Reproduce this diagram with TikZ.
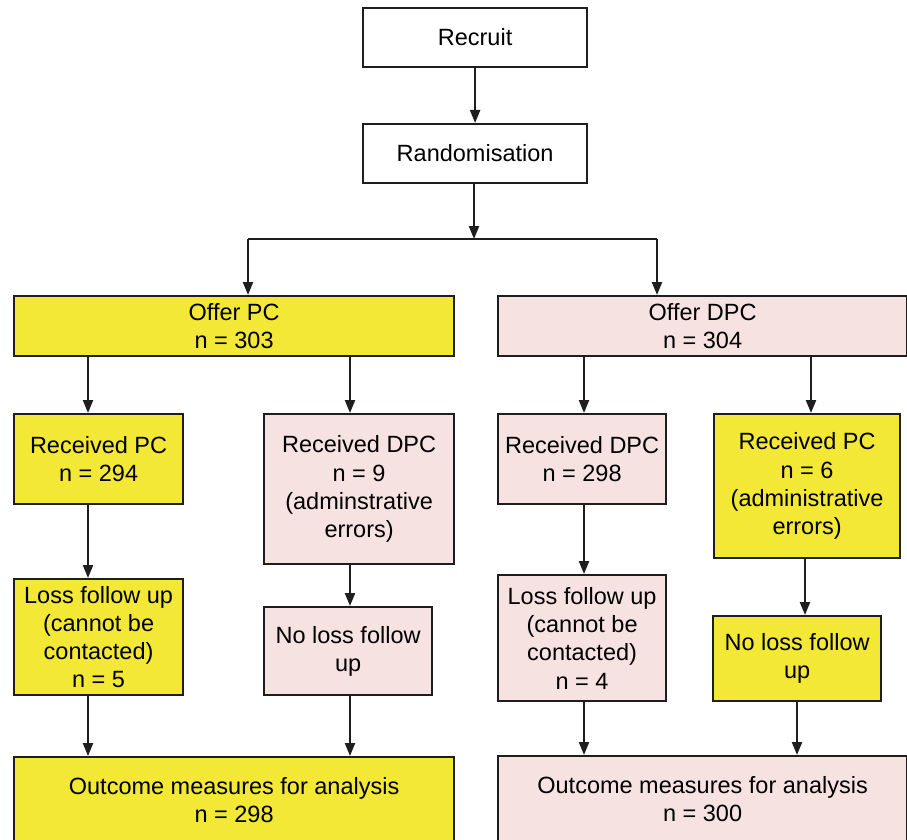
\documentclass[tikz,border=0pt]{standalone}
\usepackage{fontspec}
\setmainfont{Liberation Sans}
\usetikzlibrary{arrows.meta}
\definecolor{boxyellow}{HTML}{F2E835}
\definecolor{boxpink}{HTML}{F6E2E1}
\definecolor{edgecol}{HTML}{1E1E1E}
\begin{document}
\begin{tikzpicture}[x=1pt,y=-1pt,
  box/.style={draw=edgecol, line width=2.2pt, inner sep=0pt, align=center,
    font=\fontsize{23.5}{28.3}\selectfont, anchor=north west},
  ybox/.style={box, fill=boxyellow},
  pbox/.style={box, fill=boxpink},
  wbox/.style={box, fill=white},
  link/.style={draw=edgecol, line width=2.2pt},
  arr/.style={link, -{Triangle[length=13pt,width=10pt]}}]
\useasboundingbox[fill=white] (0,0) rectangle (907,840);

\node[wbox, minimum width=224pt, minimum height=59pt] (recruit) at (362,7) {Recruit};
\node[wbox, minimum width=224pt, minimum height=59pt] (rand) at (362,123) {Randomisation};

\node[ybox, minimum width=440pt, minimum height=60pt] (offerpc) at (13,295) {Offer PC\\n = 303};
\node[pbox, minimum width=409pt, minimum height=60pt] (offerdpc) at (497,295) {Offer DPC\\n = 304};

\node[ybox, minimum width=169pt, minimum height=90pt] (recpc) at (13,413) {Received PC\\n = 294};
\node[pbox, minimum width=190pt, minimum height=150pt] (recdpcA) at (263,413) {Received DPC\\n = 9\\(adminstrative\\errors)};
\node[pbox, minimum width=168pt, minimum height=90pt] (recdpc) at (497,413) {Received DPC\\n = 298};
\node[ybox, minimum width=186pt, minimum height=144pt] (recpcB) at (713,413) {Received PC\\n = 6\\(administrative\\errors)};

\node[ybox, minimum width=169pt, minimum height=116pt] (losspc) at (13,578) {Loss follow up\\(cannot be\\contacted)\\n = 5};
\node[pbox, minimum width=168pt, minimum height=88pt] (nolossA) at (263,606) {No loss follow\\up};
\node[pbox, minimum width=168pt, minimum height=126pt] (lossdpc) at (497,574) {Loss follow up\\(cannot be\\contacted)\\n = 4};
\node[ybox, minimum width=168pt, minimum height=85pt] (nolossB) at (712,615) {No loss follow\\up};

\node[ybox, minimum width=440pt, minimum height=86pt] (outpc) at (13,756) {Outcome measures for analysis\\n = 298};
\node[pbox, minimum width=409pt, minimum height=86pt] (outdpc) at (497,755) {Outcome measures for analysis\\n = 300};

\coordinate (j) at (474,239);
\coordinate (jl) at (248,239);
\coordinate (jr) at (657,239);
\coordinate (c1) at (88,0);
\coordinate (c2) at (350,0);
\coordinate (c3) at (584,0);
\coordinate (c4) at (811,0);
\coordinate (c5) at (805,0);
\coordinate (c6) at (797,0);

\draw[arr] (recruit) -- (rand);
\draw[arr] (rand.south -| j) -- (j);
\draw[link] (jl) -- (jr);
\draw[arr] (jl) -- (offerpc.north -| jl);
\draw[arr] (jr) -- (offerdpc.north -| jr);

\draw[arr] (offerpc.south -| c1) -- (recpc.north -| c1);
\draw[arr] (offerpc.south -| c2) -- (recdpcA.north -| c2);
\draw[arr] (offerdpc.south -| c3) -- (recdpc.north -| c3);
\draw[arr] (offerdpc.south -| c4) -- (recpcB.north -| c4);

\draw[arr] (recpc.south -| c1) -- (losspc.north -| c1);
\draw[arr] (recdpcA.south -| c2) -- (nolossA.north -| c2);
\draw[arr] (recdpc.south -| c3) -- (lossdpc.north -| c3);
\draw[arr] (recpcB.south -| c5) -- (nolossB.north -| c5);

\draw[arr] (losspc.south -| c1) -- (outpc.north -| c1);
\draw[arr] (nolossA.south -| c2) -- (outpc.north -| c2);
\draw[arr] (lossdpc.south -| c3) -- (outdpc.north -| c3);
\draw[arr] (nolossB.south -| c6) -- (outdpc.north -| c6);
\end{tikzpicture}
\end{document}
